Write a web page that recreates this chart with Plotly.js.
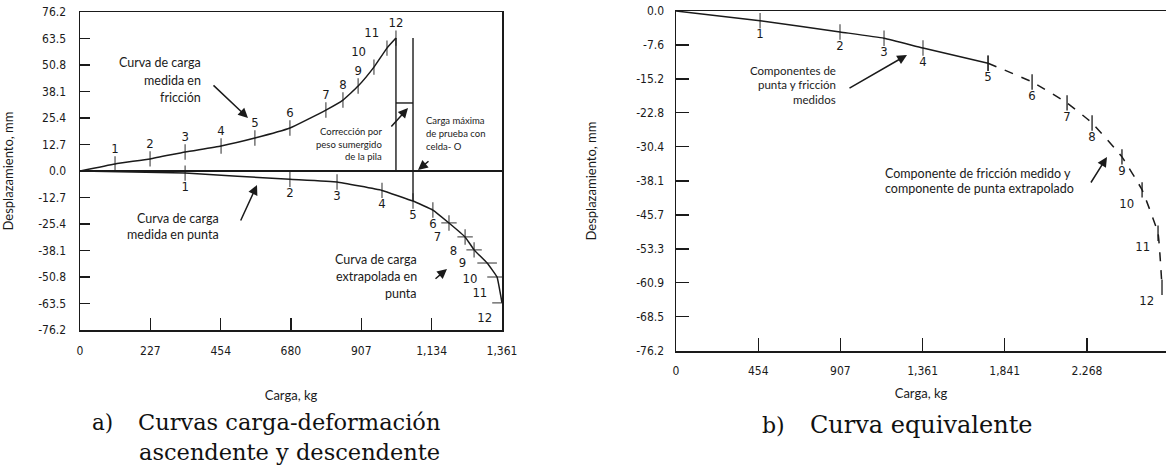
<!DOCTYPE html>
<html>
<head>
<meta charset="utf-8">
<script src="https://cdn.plot.ly/plotly-3.0.1.min.js"></script>
<style>html,body{margin:0;padding:0;background:#fff;}#chart{width:1166px;height:472px;}</style>
</head>
<body>
<div id="chart"></div>
<script>
// ---------- DATA ----------
// a) Friction (upward) curve: load (kg) and displacement (mm); first entry is the origin
const frictionLoad = [0, 113, 226, 339, 455, 564, 677, 793, 848, 897, 948, 990, 1019];
const frictionDisp = [0, 3.4, 5.8, 9.1, 12.0, 15.8, 20.6, 29.2, 34.0, 40.7, 49.8, 58.9, 63.7];
// a) Tip (downward) curve, measured 1-5 and extrapolated 6-12
const tipLoad = [0, 339, 677, 829, 974, 1074, 1138, 1190, 1242, 1271, 1313, 1345, 1361];
const tipDisp = [0, -1.0, -4.0, -5.3, -9.3, -14.4, -18.7, -24.9, -31.6, -37.8, -44.1, -50.8, -63.2];
// a) correction for submerged pile weight and maximum O-cell load
const correctionDisp = 32.6;
const maxCellLoad = 1074;
// b) Equivalent curve (measured up to point 5, extrapolated after)
const equivLoad = [0, 464, 905, 1148, 1363, 1722, 1965, 2158, 2296, 2461, 2572, 2660, 2682];
const equivDisp = [0, -2.2, -4.7, -6.1, -8.3, -11.7, -15.9, -20.6, -25.1, -32.7, -40.1, -49.8, -61.9];
const measuredCount = 5; // points 1..5 measured
// point labels
const pointLabels = ['', '1', '2', '3', '4', '5', '6', '7', '8', '9', '10', '11', '12'];
// tick labels
const loadTicksA = [0, 227, 454, 680, 907, 1134, 1361];
const loadTickTextA = ['0', '227', '454', '680', '907', '1,134', '1,361'];
const dispTicksA = [-76.2, -63.5, -50.8, -38.1, -25.4, -12.7, 0, 12.7, 25.4, 38.1, 50.8, 63.5, 76.2];
const dispTickTextA = ['-76.2', '-63.5', '-50.8', '-38.1', '-25.4', '-12.7', '0.0', '12.7', '25.4', '38.1', '50.8', '63.5', '76.2'];
const loadTicksB = [0, 454, 907, 1361, 1814, 2268];
const loadTickTextB = ['0', '454', '907', '1,361', '1,841', '2.268'];
const dispTicksB = [-76.2, -68.5, -60.9, -53.3, -45.7, -38.1, -30.4, -22.8, -15.2, -7.6, 0];
const dispTickTextB = ['-76.2', '-68.5', '-60.9', '-53.3', '-45.7', '-38.1', '-30.4', '-22.8', '-15.2', '-7.6', '0.0'];

// ---------- STYLE ----------
const W = 1166, H = 472;
const px = x => x / W;
const py = y => 1 - y / H;
const INK = '#1a1a1a';
const NARROW = '"Liberation Sans Narrow", "DejaVu Sans Condensed", "Liberation Sans", Arial, sans-serif';
const HUMAN = 'Lato, "Open Sans", sans-serif';
const SERIF = '"DejaVu Serif", "Liberation Serif", serif';

function markerSizes(n, s) { return Array.from({length: n}, (_, i) => i === 0 ? 0 : s); }

const traces = [];
// friction curve
traces.push({
  x: frictionLoad, y: frictionDisp, xaxis: 'x', yaxis: 'y',
  mode: 'lines+markers+text', text: pointLabels,
  textposition: pointLabels.map((_, i) => (i === 10 || i === 11) ? 'top left' : 'top center'),
  textfont: {family: NARROW, size: 13, color: INK},
  line: {color: INK, width: 1.5, shape: 'spline', smoothing: 0.4},
  marker: {symbol: 'line-ns', size: markerSizes(frictionLoad.length, 11), color: INK, line: {color: INK, width: 1.3}},
  hoverinfo: 'x+y'
});
// tip curve
traces.push({
  x: tipLoad, y: tipDisp, xaxis: 'x', yaxis: 'y',
  mode: 'lines+markers+text', text: pointLabels,
  textposition: pointLabels.map((_, i) => i <= 6 ? 'bottom center' : 'bottom left'),
  textfont: {family: NARROW, size: 13, color: INK},
  line: {color: INK, width: 1.5, shape: 'spline', smoothing: 0.25},
  marker: {
    symbol: pointLabels.map((_, i) => i <= 6 ? 'line-ns' : (i <= 9 ? 'cross-thin' : 'line-ew')),
    size: pointLabels.map((_, i) => i === 0 ? 0 : (i <= 9 ? 11 : 14)),
    color: INK, line: {color: INK, width: 1.3}
  },
  hoverinfo: 'x+y'
});
const peakLoad = frictionLoad[frictionLoad.length - 1];
const peakDisp = frictionDisp[frictionDisp.length - 1];
const cellTipIdx = tipLoad.indexOf(maxCellLoad);
// correction box: vertical at end of friction curve, horizontal step, vertical at max O-cell load
traces.push({
  x: [peakLoad, peakLoad, null, peakLoad, maxCellLoad, null, maxCellLoad, maxCellLoad],
  y: [peakDisp, 0, null, correctionDisp, correctionDisp, null, peakDisp, tipDisp[cellTipIdx]],
  xaxis: 'x', yaxis: 'y', mode: 'lines', line: {color: INK, width: 1.4}, hoverinfo: 'skip'
});
// equivalent curve: measured part (solid) and extrapolated part (dashed)
const mLoad = equivLoad.slice(0, measuredCount + 1), mDisp = equivDisp.slice(0, measuredCount + 1);
const eLoad = equivLoad.slice(measuredCount), eDisp = equivDisp.slice(measuredCount);
traces.push({
  x: mLoad, y: mDisp, xaxis: 'x2', yaxis: 'y2',
  mode: 'lines+markers+text', text: pointLabels.slice(0, measuredCount + 1),
  textposition: 'bottom center',
  textfont: {family: NARROW, size: 13, color: INK},
  line: {color: INK, width: 1.5, shape: 'spline', smoothing: 0.4},
  marker: {symbol: 'line-ns', size: markerSizes(mLoad.length, 11), color: INK, line: {color: INK, width: 1.3}},
  hoverinfo: 'x+y'
});
traces.push({
  x: eLoad, y: eDisp, xaxis: 'x2', yaxis: 'y2',
  mode: 'lines+markers+text', text: pointLabels.slice(measuredCount).map((t, i) => i === 0 ? '' : t),
  textposition: pointLabels.slice(measuredCount).map((_, i) => i >= 5 ? 'bottom left' : 'bottom center'),
  textfont: {family: NARROW, size: 13, color: INK},
  line: {color: INK, width: 1.5, dash: 'dash', shape: 'spline', smoothing: 0.3},
  marker: {symbol: 'line-ns', size: 11, color: INK, line: {color: INK, width: 1.3}},
  hoverinfo: 'x+y'
});

const tickFont = {family: NARROW, size: 12, color: INK};
const titleFont = {family: HUMAN, size: 13, color: INK};
const axisCommon = {
  showgrid: false, showline: true, linecolor: INK, linewidth: 1.5,
  ticks: 'inside', tickcolor: INK, tickwidth: 1.4, tickfont: tickFont,
  automargin: false, fixedrange: true
};

// text annotations: one per line for exact spacing
const annotations = [];
function block(lines, x, yFirst, step, anchor, size) {
  lines.forEach((t, i) => annotations.push({
    xref: 'paper', yref: 'paper', x: px(x), y: py(yFirst + i * step),
    xanchor: anchor, yanchor: 'middle', text: t, showarrow: false, borderpad: 0,
    font: {family: HUMAN, size: size, color: INK}
  }));
}
function arrow(tx, ty, hx, hy) {
  annotations.push({
    xref: 'paper', yref: 'paper', x: px(hx), y: py(hy), ax: tx - hx, ay: ty - hy,
    text: '', showarrow: true, arrowhead: 2, arrowsize: 1.3, arrowwidth: 1.5, arrowcolor: INK
  });
}
block(['Curva de carga', 'medida en', 'fricción'], 202, 63, 17, 'right', 12.5);
arrow(212, 84, 248, 118);
block(['Curva de carga', 'medida en punta'], 220, 218, 16, 'right', 12.5);
arrow(240, 222, 257, 185);
block(['Curva de carga', 'extrapolada en', 'punta'], 418, 259, 17, 'right', 12.5);
arrow(434, 280, 447, 269);
block(['Corrección por', 'peso sumergido', 'de la pila'], 383, 132, 12, 'right', 9.5);
arrow(390, 128, 408, 108);
block(['Carga máxima', 'de prueba con', 'celda- O'], 425, 121, 12.5, 'left', 9.5);
arrow(430, 160, 418, 170);
block(['Componentes de', 'punta y fricción', 'medidos'], 837, 71, 14, 'right', 11.5);
arrow(848, 89, 907, 55);
block(['Componente de fricción medido y', 'componente de punta extrapolado'], 884, 173, 16, 'left', 12.5);
arrow(1090, 184, 1107, 157);
// captions
function caption(t, x, y, size) {
  annotations.push({xref: 'paper', yref: 'paper', x: px(x), y: py(y), xanchor: 'left', yanchor: 'middle',
    text: t, showarrow: false, font: {family: SERIF, size: size, color: '#111'}});
}
caption('a)', 90, 422, 21.5);
caption('Curvas carga-deformación', 136, 422, 22.5);
caption('ascendente y descendente', 137, 452, 22.5);
caption('b)', 760, 425, 22);
caption('Curva equivalente', 808, 425, 24);

const layout = {
  width: W, height: H, margin: {l: 0, r: 0, t: 0, b: 0},
  paper_bgcolor: '#fff', plot_bgcolor: '#fff', showlegend: false,
  xaxis: Object.assign({}, axisCommon, {
    domain: [px(80), px(502)], range: [0, 1361], anchor: 'y', mirror: true,
    tickvals: loadTicksA, ticktext: loadTickTextA, ticklen: 12, ticklabelstandoff: 9, zeroline: false,
    title: {text: 'Carga, kg', font: titleFont, standoff: 34}
  }),
  yaxis: Object.assign({}, axisCommon, {
    domain: [py(330), py(12)], range: [-76.2, 76.2], anchor: 'x', mirror: true,
    tickvals: dispTicksA, ticktext: dispTickTextA, ticklen: 10, ticklabelstandoff: 10,
    zeroline: true, zerolinecolor: INK, zerolinewidth: 1.5,
    title: {text: 'Desplazamiento, mm', font: titleFont, standoff: 22}
  }),
  xaxis2: Object.assign({}, axisCommon, {
    domain: [px(676), 1], range: [0, 2704], anchor: 'y2', mirror: true,
    tickvals: loadTicksB, ticktext: loadTickTextB, ticklen: 13, ticklabelstandoff: 8, zeroline: false,
    title: {text: 'Carga, kg', font: titleFont, standoff: 12}
  }),
  yaxis2: Object.assign({}, axisCommon, {
    domain: [py(351), py(11)], range: [-76.2, 0], anchor: 'x2', mirror: false,
    tickvals: dispTicksB, ticktext: dispTickTextB, ticklen: 13, ticklabelstandoff: 8, zeroline: false,
    title: {text: 'Desplazamiento, mm', font: titleFont, standoff: 36}
  }),
  annotations: annotations
};

Plotly.newPlot('chart', traces, layout, {displayModeBar: false, staticPlot: true});
</script>
</body>
</html>
